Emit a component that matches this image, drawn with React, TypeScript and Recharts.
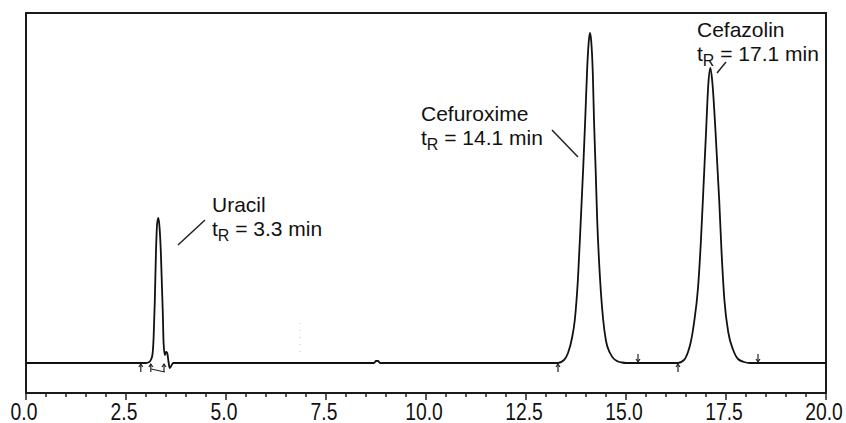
import { LineChart, Line, XAxis, YAxis, ReferenceArea, ReferenceLine, ReferenceDot } from "recharts"

// retention time (min) and detector signal
const times = [
    0, 2.8, 3.0, 3.08, 3.12, 3.16, 3.19, 3.22, 3.25, 3.28, 3.31, 3.34, 3.37, 3.4, 3.42, 3.44, 3.47, 3.5, 3.53, 3.56, 3.59, 3.63, 3.68,
    8.7, 8.75, 8.8, 8.85,
    13.3, 13.45, 13.55, 13.65, 13.72, 13.8, 13.87, 13.93, 13.98, 14.03, 14.07, 14.1, 14.13, 14.17, 14.2, 14.24, 14.28, 14.35, 14.43, 14.5, 14.6, 14.7, 14.8, 14.9, 15.0,
    16.3, 16.45, 16.55, 16.62, 16.7, 16.8, 16.87, 16.93, 17.0, 17.06, 17.11, 17.16, 17.24, 17.33, 17.39, 17.46, 17.56, 17.68, 17.8, 17.95, 18.1,
    20,
]
const signal = [
    0, 0, 0, 1, 3, 8, 25, 62, 112, 140, 145, 135, 112, 75, 50, 20, 8, 11, 10, 2, -5, -3, 0,
    0, 2, 2, 0,
    0, 3, 10, 25, 43, 85, 143, 195, 243, 295, 322, 330, 322, 290, 243, 195, 143, 85, 43, 22, 10, 4, 1.5, 0.5, 0,
    0, 3, 11, 21, 40, 75, 120, 170, 230, 280, 295, 280, 230, 163, 110, 63, 30, 13, 4, 1, 0,
    0,
]

const allTicks = [
    0, 0.5, 1, 1.5, 2, 2.5, 3, 3.5, 4, 4.5, 5, 5.5, 6, 6.5, 7, 7.5, 8, 8.5, 9, 9.5, 10,
    10.5, 11, 11.5, 12, 12.5, 13, 13.5, 14, 14.5, 15, 15.5, 16, 16.5, 17, 17.5, 18, 18.5, 19, 19.5, 20,
]
const majorTicks = [0, 2.5, 5, 7.5, 10, 12.5, 15, 17.5, 20]

const peakNames = ["Uracil", "Cefuroxime", "Cefazolin"]
const peakTimes = ["3.3", "14.1", "17.1"]

// where each peak label sits and its leader line, in chart units
const labelAt = [
    { t: 4.65, v: 151 },
    { t: 9.875, v: 242 },
    { t: 16.775, v: 326 },
]
const leaders = [
    [{ x: 3.8, y: 118 }, { x: 4.475, y: 143 }],
    [{ x: 13.15, y: 233 }, { x: 13.8, y: 206 }],
    [{ x: 17.275, y: 290 }, { x: 17.5, y: 301 }],
]

// integration markers
const upMarks = [2.87, 3.12, 3.45, 13.3, 16.3]
const downMarks = [15.3, 18.3]

const data = times.map((t, i) => ({ t, v: signal[i] }))

const FONT = "'Liberation Sans', Arial, sans-serif"

function TimeTick({ x, y, payload }: any) {
    const major = majorTicks.includes(payload.value)
    return (
        <g>
            <line x1={x} x2={x} y1={y} y2={y + (major ? 7 : 4)} stroke="#222" strokeWidth={1.5} />
            {major && (
                <text
                    x={x}
                    y={y + 27}
                    textAnchor="middle"
                    fontSize={23}
                    fontFamily={FONT}
                    fill="#111"
                    transform={`translate(${x - 2} 0) scale(0.84 1) translate(${-x} 0)`}
                >
                    {payload.value.toFixed(1)}
                </text>
            )}
        </g>
    )
}

function PeakLabel({ cx, cy, name, rt }: any) {
    return (
        <text x={cx} y={cy} fontSize={21} fontFamily={FONT} fill="#111">
            <tspan x={cx} y={cy}>{name}</tspan>
            <tspan x={cx} y={cy + 24}>t</tspan>
            <tspan dy={5} fontSize={16}>R</tspan>
            <tspan dy={-5}>{` = ${rt} min`}</tspan>
        </text>
    )
}

function Arrow({ cx, cy, up }: any) {
    // up arrows hang below the baseline, down arrows sit above it
    const y0 = up ? cy + 1 : cy - 9
    const y1 = up ? cy + 9 : cy - 1
    const tip = up ? y0 : y1
    const dir = up ? 1 : -1
    return (
        <g stroke="#222" strokeWidth={1.2} fill="none">
            <line x1={cx} x2={cx} y1={y0} y2={y1} />
            <path d={`M${cx - 2},${tip + dir * 3} L${cx},${tip} L${cx + 2},${tip + dir * 3}`} />
        </g>
    )
}

export default function App() {
    return (
        <div>
            <style>{`body{margin:0;background:#fff}`}</style>
            <LineChart width={846} height={423} data={data} margin={{ top: 13, right: 20, left: 26, bottom: 0 }}>
                <XAxis
                    dataKey="t"
                    type="number"
                    domain={[0, 20]}
                    ticks={allTicks}
                    interval={0}
                    tick={<TimeTick />}
                    tickLine={false}
                    tickSize={0}
                    tickMargin={0}
                    axisLine={false}
                    height={30}
                />
                <YAxis type="number" domain={[-30, 350]} hide />
                <ReferenceArea x1={0} x2={20} y1={-30} y2={350} fill="none" stroke="#1a1a1a" strokeWidth={2} fillOpacity={0} />
                <ReferenceLine
                    segment={[{ x: 6.85, y: 11 }, { x: 6.85, y: 43 }]}
                    stroke="#c8c8c8"
                    strokeDasharray="1 6"
                />
                <ReferenceLine segment={[{ x: 3.13, y: -6 }, { x: 3.47, y: -9 }]} stroke="#222" strokeWidth={1.2} />
                {leaders.map((seg, i) => (
                    <ReferenceLine key={`ld-${i}`} segment={seg} stroke="#222" strokeWidth={1.5} />
                ))}
                {upMarks.map((t) => (
                    <ReferenceDot key={`u-${t}`} x={t} y={0} r={0} shape={(p: any) => <Arrow {...p} up />} />
                ))}
                {downMarks.map((t) => (
                    <ReferenceDot key={`d-${t}`} x={t} y={0} r={0} shape={(p: any) => <Arrow {...p} up={false} />} />
                ))}
                <Line
                    dataKey="v"
                    type="monotone"
                    stroke="#111"
                    strokeWidth={1.8}
                    dot={false}
                    isAnimationActive={false}
                />
                {peakNames.map((name, i) => (
                    <ReferenceDot
                        key={name}
                        x={labelAt[i].t}
                        y={labelAt[i].v}
                        r={0}
                        shape={(p: any) => <PeakLabel {...p} name={name} rt={peakTimes[i]} />}
                    />
                ))}
            </LineChart>
        </div>
    )
}
